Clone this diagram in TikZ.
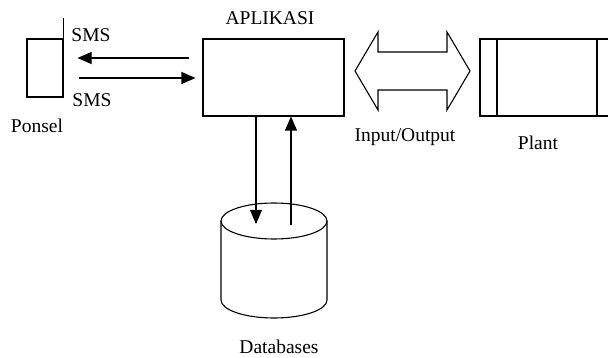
\documentclass[tikz,border=0pt]{standalone}
\usepackage{fontspec}
\setmainfont{Liberation Serif}
\usetikzlibrary{arrows.meta}
\begin{document}
\begin{tikzpicture}[x=1pt,y=-1pt,line width=1.1pt,
  every node/.style={font=\fontsize{19.5}{23}\selectfont},
  blok/.style={draw,rectangle,inner sep=0pt},
  panah/.style={-{Triangle[length=14pt,width=12pt]}}]
\useasboundingbox (0,0) rectangle (608,358);
\node[blok,minimum width=36pt,minimum height=58pt] (ponsel) at (45,68) {};
\draw (ponsel.north east) -- ++(0,-20);
\node[blok,minimum width=141pt,minimum height=77pt] (aplikasi) at (273.5,77.5) {};
\draw (608,39) -- (480,39) -- (480,116) -- (608,116);
\draw (497,39) -- (497,116);
\draw (597,39) -- (597,116);
\draw (355,71) -- (378,32) -- (378,52) -- (447,52) -- (447,32) -- (470,71) -- (447,110) -- (447,90) -- (378,90) -- (378,110) -- cycle;
\draw (221,221) -- (221,300) arc[start angle=180,end angle=360,x radius=53pt,y radius=18pt] -- (327,221);
\draw (274,221) ellipse [x radius=53pt,y radius=18pt];
\coordinate (db) at (274,221);
\draw[panah,shorten <=13pt,shorten >=14pt] (aplikasi.west |- 0,58) -- (ponsel.east |- 0,58);
\draw[panah,shorten <=15pt,shorten >=7pt] (ponsel.east |- 0,78) -- (aplikasi.west |- 0,78);
\draw[panah] (aplikasi.south -| 256,0) -- ([xshift=-18pt,yshift=-3pt]db);
\draw[panah] ([xshift=17pt,yshift=-4pt]db) -- (aplikasi.south -| 291,0);
\node (sms1) at (91,35) {SMS};
\node (sms2) at (92,100) {SMS};
\node (lponsel) at (37,126) {Ponsel};
\node (lapl) at (270,18) {APLIKASI};
\node (lio) at (405,137) {Input/Output};
\node (lplant) at (538,143) {Plant};
\node (ldb) at (279,347) {Databases};
\end{tikzpicture}
\end{document}
